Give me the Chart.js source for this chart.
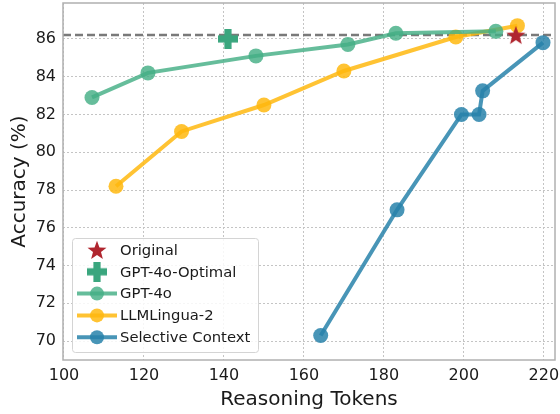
<!DOCTYPE html>
<html>
<head>
<meta charset="utf-8">
<script src="https://cdn.jsdelivr.net/npm/chart.js@4/dist/chart.umd.min.js"></script>
<style>
html, body { margin: 0; padding: 0; background: #fff; }
#wrap { width: 560px; height: 414px; }
</style>
</head>
<body>
<div id="wrap"><canvas id="c"></canvas></div>
<script>
// values
const originalX = [213];
const originalY = [86.2];
const optimalX = [141];
const optimalY = [86.0];
const gpt4oX = [107, 121, 148, 171, 183, 208];
const gpt4oY = [82.9, 84.2, 85.1, 85.7, 86.3, 86.4];
const linguaX = [113, 129.4, 150, 170, 198, 213.4];
const linguaY = [78.2, 81.1, 82.5, 84.3, 86.1, 86.7];
const selectX = [164.2, 183.3, 199.4, 203.8, 204.7, 219.8];
const selectY = [70.3, 76.95, 82.0, 82.0, 83.25, 85.8];
const xTicks = [100, 120, 140, 160, 180, 200, 220];
const yTicks = [70, 72, 74, 76, 78, 80, 82, 84, 86];

const FONT = "'DejaVu Sans', sans-serif";
const GREEN = 'rgba(68,175,133,0.82)';
const YELLOW = 'rgba(255,184,15,0.85)';
const BLUE = 'rgba(40,130,170,0.85)';
const RED = '#b0262f';
const PLUS_GREEN = '#3aa67e';

function pts(xs, ys) {
  return xs.map((x, i) => ({ x: x, y: ys[i] }));
}

function starImg(size, color) {
  const c = document.createElement('canvas');
  c.width = size; c.height = size;
  const g = c.getContext('2d');
  const cx = size / 2, cy = size / 2 + size * 0.04, R = size / 2, r = R * 0.42;
  g.beginPath();
  for (let i = 0; i < 10; i++) {
    const a = -Math.PI / 2 + i * Math.PI / 5;
    const rr = i % 2 === 0 ? R : r;
    g.lineTo(cx + rr * Math.cos(a), cy + rr * Math.sin(a));
  }
  g.closePath();
  g.fillStyle = color;
  g.fill();
  return c;
}

function plusImg(size, color) {
  const c = document.createElement('canvas');
  c.width = size; c.height = size;
  const g = c.getContext('2d');
  const t = size * 0.36, o = (size - t) / 2;
  g.fillStyle = color;
  g.fillRect(o, 0, t, size);
  g.fillRect(0, o, size, t);
  return c;
}

const star = starImg(20, RED);
const plus = plusImg(20, PLUS_GREEN);

const dashLine = {
  id: 'dashLine',
  beforeDatasetsDraw(chart) {
    const { ctx, chartArea, scales } = chart;
    const y = scales.y.getPixelForValue(originalY[0]);
    ctx.save();
    ctx.strokeStyle = '#7a7a7a';
    ctx.lineWidth = 2.5;
    ctx.setLineDash([8, 4]);
    ctx.beginPath();
    ctx.moveTo(chartArea.left, y);
    ctx.lineTo(chartArea.right, y);
    ctx.stroke();
    ctx.restore();
  }
};

const frame = {
  id: 'frame',
  afterDatasetsDraw(chart) {
    const { ctx, chartArea: a } = chart;
    ctx.save();
    ctx.strokeStyle = '#b0b0b0';
    ctx.lineWidth = 1.5;
    ctx.strokeRect(a.left, a.top, a.right - a.left, a.bottom - a.top);
    ctx.restore();
  }
};

const legendBox = {
  id: 'legendBox',
  afterDraw(chart) {
    const { ctx } = chart;
    const x0 = 72, y0 = 238, w = 186, h = 114;
    ctx.save();
    ctx.fillStyle = 'rgba(255,255,255,0.85)';
    ctx.strokeStyle = '#d4d4d4';
    ctx.lineWidth = 1;
    ctx.beginPath();
    ctx.roundRect(x0 + 0.5, y0 + 0.5, w, h, 3);
    ctx.fill();
    ctx.stroke();
    ctx.font = '14.8px ' + FONT;
    ctx.textBaseline = 'middle';
    ctx.textAlign = 'left';
    chart.data.datasets.forEach((ds, i) => {
      const cy = y0 + 12 + i * 21.8;
      const mx = 97;
      if (ds.showLine) {
        ctx.strokeStyle = ds.borderColor;
        ctx.lineWidth = 4;
        ctx.beginPath();
        ctx.moveTo(77, cy);
        ctx.lineTo(117, cy);
        ctx.stroke();
        ctx.fillStyle = ds.pointBackgroundColor;
        ctx.beginPath();
        ctx.arc(mx, cy, 7, 0, Math.PI * 2);
        ctx.fill();
      } else {
        const img = ds.pointStyle;
        ctx.drawImage(img, mx - img.width / 2, cy - img.height / 2);
      }
      ctx.fillStyle = '#1a1a1a';
      ctx.fillText(ds.label, 120, cy + 1);
    });
    ctx.restore();
  }
};

function noPad(s) {
  s.paddingTop = 0; s.paddingBottom = 0; s.paddingLeft = 0; s.paddingRight = 0;
}

new Chart(document.getElementById('c'), {
  type: 'scatter',
  data: {
    datasets: [
      { label: 'Original', data: pts(originalX, originalY), showLine: false,
        pointStyle: star, pointRadius: 10, pointHoverRadius: 10 },
      { label: 'GPT-4o-Optimal', data: pts(optimalX, optimalY), showLine: false,
        pointStyle: plus, pointRadius: 10, pointHoverRadius: 10 },
      { label: 'GPT-4o', data: pts(gpt4oX, gpt4oY), showLine: true,
        borderColor: GREEN, borderWidth: 4, pointBackgroundColor: GREEN,
        pointBorderWidth: 0, pointRadius: 7.5 },
      { label: 'LLMLingua-2', data: pts(linguaX, linguaY), showLine: true,
        borderColor: YELLOW, borderWidth: 4, pointBackgroundColor: YELLOW,
        pointBorderWidth: 0, pointRadius: 7.5 },
      { label: 'Selective Context', data: pts(selectX, selectY), showLine: true,
        borderColor: BLUE, borderWidth: 4, pointBackgroundColor: BLUE,
        pointBorderWidth: 0, pointRadius: 7.5 }
    ]
  },
  options: {
    responsive: true,
    maintainAspectRatio: false,
    animation: false,
    devicePixelRatio: 1,
    layout: { autoPadding: false, padding: { top: 3, right: 5, left: 0, bottom: 0 } },
    plugins: { legend: { display: false }, tooltip: { enabled: false } },
    scales: {
      x: {
        type: 'linear',
        min: 99.75, max: 222.8,
        afterBuildTicks: s => { s.ticks = xTicks.map(v => ({ value: v })); },
        afterFit: s => { s.height = 54; noPad(s); },
        grid: { color: '#c4c4c4', lineWidth: 1, drawTicks: false },
        border: { display: false, dash: [2, 2] },
        ticks: { color: '#1a1a1a', font: { family: FONT, size: 16 }, padding: 6 },
        title: { display: true, text: 'Reasoning Tokens', color: '#1a1a1a',
                 font: { family: FONT, size: 20 }, padding: { top: 0, bottom: 2 } }
      },
      y: {
        min: 69, max: 87.9,
        afterBuildTicks: s => { s.ticks = yTicks.map(v => ({ value: v })); },
        afterFit: s => { s.width = 63; noPad(s); },
        grid: { color: '#c4c4c4', lineWidth: 1, drawTicks: false },
        border: { display: false, dash: [2, 2] },
        ticks: { color: '#1a1a1a', font: { family: FONT, size: 16 }, padding: 7 },
        title: { display: true, text: 'Accuracy (%)', color: '#1a1a1a',
                 font: { family: FONT, size: 20 }, padding: { top: 8, bottom: 0 } }
      }
    }
  },
  plugins: [dashLine, frame, legendBox]
});
</script>
</body>
</html>
